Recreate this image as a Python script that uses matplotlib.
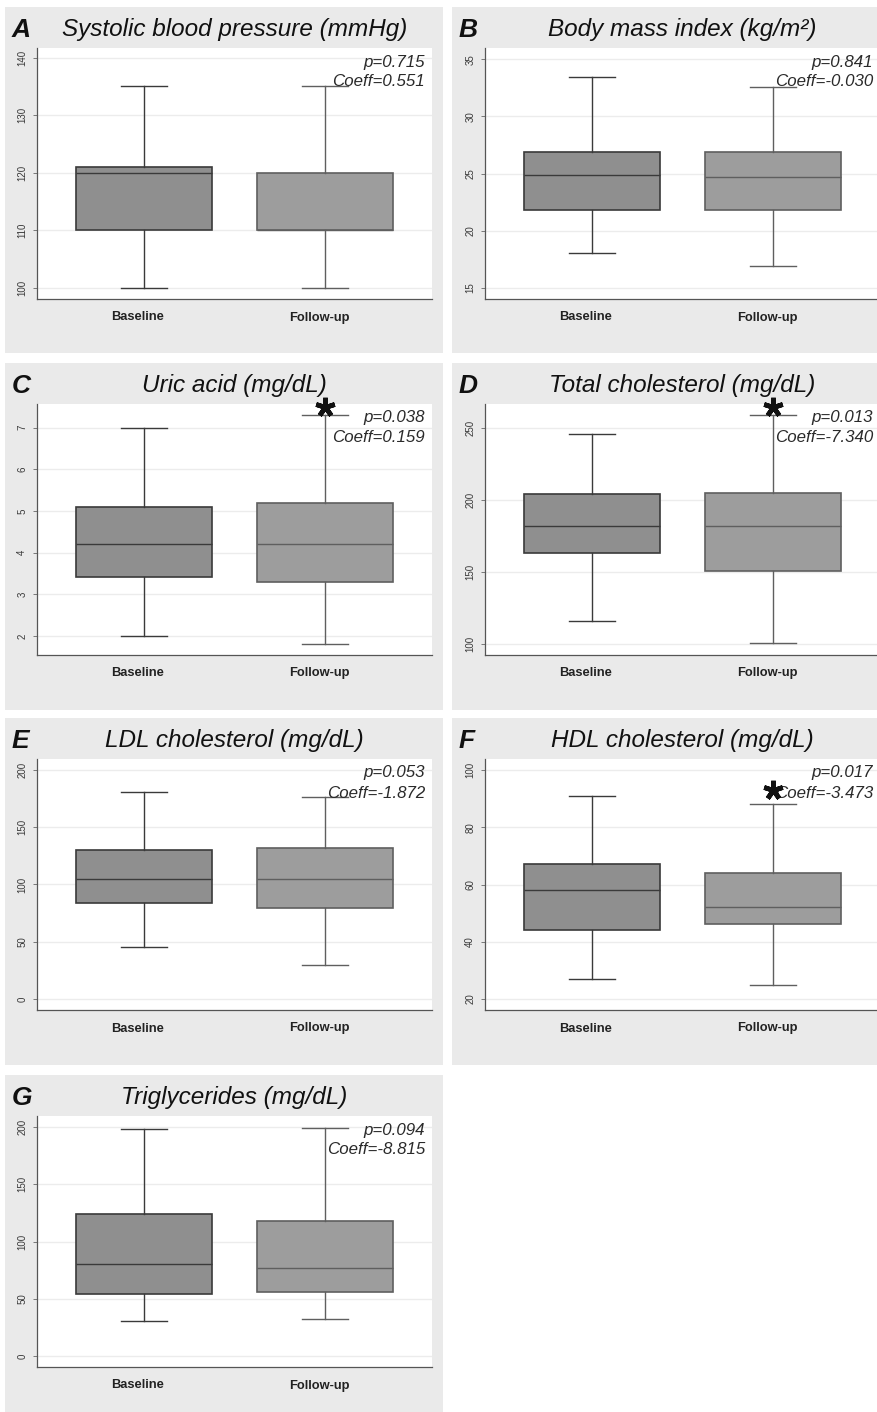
import matplotlib
matplotlib.use("Agg")
import matplotlib.pyplot as plt
from matplotlib.patches import Rectangle

plt.rcParams["font.family"] = ["Liberation Sans", "DejaVu Sans"]

# ── data (whislo, q1, median, q3, whishi) ─────────────────────────
groups = ["Baseline", "Follow-up"]
letters = ["A", "B", "C", "D", "E", "F", "G"]
titles = [
    "Systolic blood pressure (mmHg)",
    "Body mass index (kg/m\u00b2)",
    "Uric acid (mg/dL)",
    "Total cholesterol (mg/dL)",
    "LDL cholesterol (mg/dL)",
    "HDL cholesterol (mg/dL)",
    "Triglycerides (mg/dL)",
]

sbp_base = [100, 110, 120, 121, 135]
sbp_follow = [100, 110, 110, 120, 135]
bmi_base = [18.0, 21.8, 24.85, 26.9, 33.5]
bmi_follow = [16.85, 21.8, 24.7, 26.9, 32.6]
uric_base = [2.0, 3.41, 4.2, 5.1, 7.0]
uric_follow = [1.8, 3.3, 4.2, 5.2, 7.3]
tc_base = [116, 163, 182, 204, 246]
tc_follow = [101, 151, 182, 205, 259]
ldl_base = [45, 83.5, 105, 130, 181]
ldl_follow = [30, 79.5, 105, 132, 176]
hdl_base = [27, 44.2, 58, 67, 91]
hdl_follow = [25, 46.2, 52, 64, 88]
tg_base = [30.6, 54, 80, 124, 198.6]
tg_follow = [32, 56, 76.6, 117.5, 199.5]

base_stats = [sbp_base, bmi_base, uric_base, tc_base, ldl_base, hdl_base, tg_base]
follow_stats = [sbp_follow, bmi_follow, uric_follow, tc_follow, ldl_follow, hdl_follow, tg_follow]

p_values = ["0.715", "0.841", "0.038", "0.013", "0.053", "0.017", "0.094"]
coeffs = ["0.551", "-0.030", "0.159", "-7.340", "-1.872", "-3.473", "-8.815"]

y_ticks = [
    [100, 110, 120, 130, 140],
    [15, 20, 25, 30, 35],
    [2, 3, 4, 5, 6, 7],
    [100, 150, 200, 250],
    [0, 50, 100, 150, 200],
    [20, 40, 60, 80, 100],
    [0, 50, 100, 150, 200],
]
y_lims = [(98.0, 141.7), (14.0, 36.0), (1.54, 7.57), (92.4, 266.9),
          (-9.6, 209.6), (16.2, 103.8), (-9.6, 209.6)]

# significance star (panel index -> y value)
stars = {2: 7.50, 3: 265.0, 5: 93.0}

# ── layout (pixels) ──────────────────────────────────────────────
W, H = 878, 1412
row_top = [7, 363, 718, 1075]
row_bot = [353, 710, 1065, 1412]
col_bg = [(5, 443), (452, 895)]
col_ax = [(37, 432), (485, 880)]

BG = "#eaeaea"


def rect(x0, y0, x1, y1):
    return [x0 / W, 1 - y1 / H, (x1 - x0) / W, (y1 - y0) / H]


fig = plt.figure(figsize=(W / 100, H / 100), dpi=100)

for i in range(7):
    r, c = divmod(i, 2)
    top = row_top[r]
    bx0, bx1 = col_bg[c]
    fig.patches.append(Rectangle((bx0 / W, 1 - row_bot[r] / H), (bx1 - bx0) / W,
                                 (row_bot[r] - top) / H, transform=fig.transFigure,
                                 facecolor=BG, edgecolor="none", zorder=-5))
    ax0, ax1 = col_ax[c]
    ax = fig.add_axes(rect(ax0, top + 41, ax1, top + 292))
    ax.set_facecolor("white")

    stats = []
    for g, s in zip(groups, [base_stats[i], follow_stats[i]]):
        stats.append({"label": g, "whislo": s[0], "q1": s[1], "med": s[2],
                      "q3": s[3], "whishi": s[4], "fliers": []})

    bp = ax.bxp(stats, positions=[1, 2], widths=0.75, patch_artist=True,
                showfliers=False, capwidths=0.25)
    fills = ["#8f8f8f", "#9d9d9d"]
    edges = ["#3a3a3a", "#5f5f5f"]
    for k in range(2):
        bp["boxes"][k].set(facecolor=fills[k], edgecolor=edges[k], linewidth=1.2)
        bp["medians"][k].set(color=edges[k], linewidth=1.0)
        for ln in bp["whiskers"][2 * k:2 * k + 2] + bp["caps"][2 * k:2 * k + 2]:
            ln.set(color=edges[k], linewidth=1.0)

    ax.set_xlim(0.41, 2.59)
    ax.set_ylim(*y_lims[i])
    ax.set_yticks(y_ticks[i])
    ax.set_yticklabels([str(t) for t in y_ticks[i]], rotation=90, va="center",
                       fontsize=7, color="#3a3a3a")
    ax.tick_params(axis="y", length=3, width=0.6, color="#666666", pad=4)
    ax.tick_params(axis="x", length=0, pad=9)
    # labels sit a few pixels left of the box centres in the original
    ax.set_xticks([0.967, 1.967])
    ax.set_xticklabels(groups, fontsize=9.3, fontweight="bold", color="#222222")
    ax.grid(axis="y", color="#ececec", linewidth=1.0)
    ax.set_axisbelow(True)
    for side in ["top", "right"]:
        ax.spines[side].set_visible(False)
    for side in ["left", "bottom"]:
        ax.spines[side].set_color("#555555")
        ax.spines[side].set_linewidth(0.9)

    ax.annotate(f"p={p_values[i]}", xy=(1, 1), xycoords="axes fraction",
                xytext=(-7, -14), textcoords="offset pixels", ha="right", va="center",
                fontsize=12.2, style="italic", color="#2a2a2a")
    ax.annotate(f"Coeff={coeffs[i]}", xy=(1, 1), xycoords="axes fraction",
                xytext=(-7, -34), textcoords="offset pixels", ha="right", va="center",
                fontsize=12.2, style="italic", color="#2a2a2a")

    if i in stars:
        ax.plot([2], [stars[i]], marker=(5, 2, 0), markersize=14, markeredgewidth=3.4,
                color="#111111", clip_on=False, zorder=5)

    cx = (ax0 + ax1) / 2
    fig.text(cx / W, 1 - (top + 29) / H, titles[i], ha="center", va="baseline",
             fontsize=17.5, style="italic", color="#111111")
    fig.text((col_bg[c][0] + 7) / W, 1 - (top + 30) / H, letters[i], ha="left",
             va="baseline", fontsize=19, style="italic", fontweight="bold", color="#111111")

fig.savefig("out.png", dpi=100, facecolor="white")
